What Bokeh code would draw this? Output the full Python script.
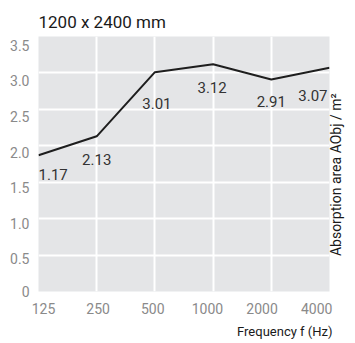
import math
from bokeh.plotting import figure
from bokeh.models import Range1d, FixedTicker, ColumnDataSource, LinearAxis, Title
from bokeh.core.properties import value
from bokeh.embed import file_html
from bokeh.resources import INLINE

# ---- data ----
title_text = "1200 x 2400 mm"
x_title = "Frequency f (Hz)"
y_title = "Absorption area AObj / m²"
frequencies = ["125", "250", "500", "1000", "2000", "4000"]
absorption = [1.87, 2.13, 3.01, 3.12, 2.91, 3.07]
value_labels = ["1.17", "2.13", "3.01", "3.12", "2.91", "3.07"]
y_values = [0, 0.5, 1.0, 1.5, 2.0, 2.5, 3.0, 3.5]
y_tick_labels = ["0", "0.5", "1.0", "1.5", "2.0", "2.5", "3.0", "3.5"]

# ---- layout (style) ----
W, H = 355, 343
L, T = 38, 36
FW, FH = 293, 259
XMAX, YMAX = len(frequencies) - 1, 3.5
FONT = "Roboto"
Y_TITLE_START = 0.486   # where the rotated right title begins (data units)

idx = list(range(len(frequencies)))

p = figure(width=W, height=H, output_backend="svg", toolbar_location=None,
           x_range=Range1d(0, XMAX), y_range=Range1d(0, YMAX))
p.min_border_left = L
p.min_border_top = T
p.min_border_right = W - L - FW
p.min_border_bottom = H - T - FH
p.background_fill_color = "#e4e5e7"
p.border_fill_color = "white"
p.outline_line_color = None

# title
p.title.text = title_text
p.title.align = "left"
p.title.text_font = FONT
p.title.text_font_size = "17px"
p.title.text_font_style = "normal"
p.title.text_color = "#1a1a1a"
p.title.standoff = 9

# grids
p.xgrid.ticker = FixedTicker(ticks=idx[1:-1])
p.ygrid.ticker = FixedTicker(ticks=y_values[1:-1])
for g in (p.xgrid, p.ygrid):
    g.grid_line_color = "white"
    g.grid_line_width = 2

# axis labels (slightly shifted positions like the reference)
x_label_pos = [round(0.085 + 0.939 * i, 3) for i in idx]
p.xaxis.ticker = FixedTicker(ticks=x_label_pos)
p.xaxis.major_label_overrides = {pos: lab for pos, lab in zip(x_label_pos, frequencies)}
y_label_pos = [max(0.0, round(-0.04 + 0.977 * v, 3)) for v in y_values]
p.yaxis.ticker = FixedTicker(ticks=y_label_pos)
p.yaxis.major_label_overrides = {pos: lab for pos, lab in zip(y_label_pos, y_tick_labels)}
for ax in (p.xaxis, p.yaxis):
    ax.axis_line_color = None
    ax.major_tick_line_color = None
    ax.minor_tick_line_color = None
    ax.major_tick_out = 0
    ax.major_label_text_font = FONT
    ax.major_label_text_font_size = "14px"
    ax.major_label_text_color = "#8a8a8a"
p.xaxis.major_label_standoff = 11
p.yaxis.major_label_standoff = 9

# x axis title as a right aligned title below the axis
p.add_layout(Title(text=x_title, align="right", offset=-3, standoff=10,
                   text_font=FONT, text_font_size="13px",
                   text_font_style="normal", text_color="#1a1a1a"), "below")

# right axis: its single rotated tick label is the y title
ra = LinearAxis(ticker=FixedTicker(ticks=[Y_TITLE_START]))
ra.major_label_overrides = {Y_TITLE_START: y_title}
ra.major_label_orientation = math.pi / 2
ra.axis_line_color = None
ra.major_tick_line_color = None
ra.minor_tick_line_color = None
ra.major_tick_out = 0
ra.major_tick_in = 0
ra.major_label_standoff = 7
ra.major_label_text_font = FONT
ra.major_label_text_font_size = "14px"
ra.major_label_text_color = "#1a1a1a"
p.add_layout(ra, "right")

# line
p.line(idx, absorption, line_color="#1e1e1e", line_width=2)

# value labels
src = ColumnDataSource(dict(
    x=idx, y=absorption, text=value_labels,
    xo=[0, 0, 2, -1, 0, -2],
    yo=[19, 23.5, 31.5, 23, 22, 28],
    align=["left", "center", "center", "center", "center", "right"],
))
p.text(x="x", y="y", text="text", source=src, x_offset="xo", y_offset="yo",
       text_align="align", text_baseline="alphabetic",
       text_font=value(FONT), text_font_size="15px", text_color="#333333")

open("out.html", "w").write(file_html(p, INLINE))
